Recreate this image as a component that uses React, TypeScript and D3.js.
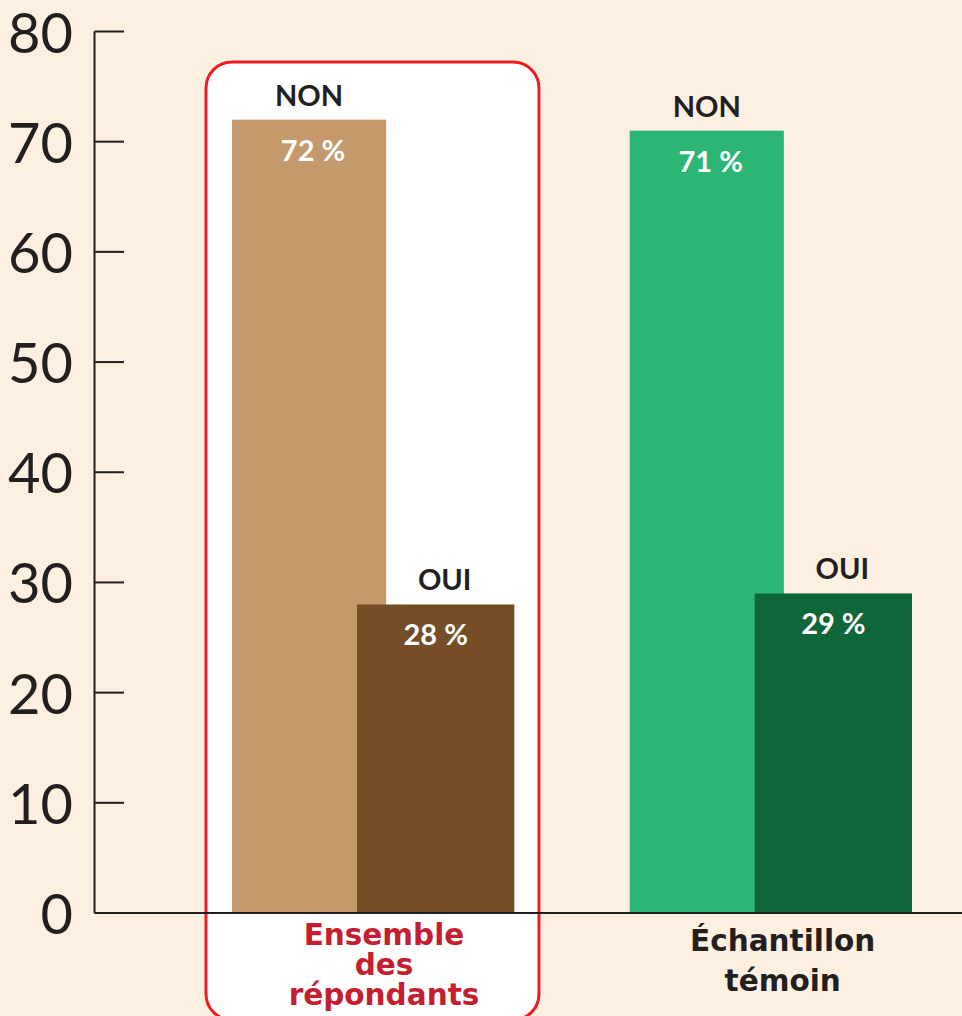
import React, { useEffect } from "react";
import * as d3 from "d3";

const groups = ["Ensemble des répondants", "Échantillon témoin"];
const groupLines = [["Ensemble", "des", "répondants"], ["Échantillon", "témoin"]];
const seriesNames = ["NON", "OUI"];
const nonValues = [72, 71];
const ouiValues = [28, 29];
const valueLabels = [["72 %", "71 %"], ["28 %", "29 %"]];
const yTicks = [0, 10, 20, 30, 40, 50, 60, 70, 80];

const W = 962;
const H = 1016;
const FONT = "Lato, 'DejaVu Sans', sans-serif";
const WIDE = "'DejaVu Sans', Lato, sans-serif";
const BG = "#fdf0e1";
const INK = "#231f20";
const colors = [
  ["#c4996b", "#754d27"],
  ["#2cb673", "#0f6638"],
];

export default function App() {
  useEffect(() => {
    document.body.style.margin = "0";
    document.body.style.background = BG;
  }, []);

  const y = d3.scaleLinear().domain([0, 80]).range([913, 31.5]);
  const x = d3.scaleBand<string>().domain(groups).range([232, 912]).paddingInner(0.29);
  const bw = x.bandwidth();
  const sub = d3.scaleOrdinal<string, number>().domain(seriesNames).range([0, 0.443 * bw]);
  const subW = [0.546 * bw, bw - 0.443 * bw];
  const axisX = 94.5;
  const baseY = y(0);

  const g1 = x(groups[0])!;

  return (
    <svg width={W} height={H} style={{ display: "block", background: BG, fontFamily: FONT }}>
      <rect x={0} y={0} width={W} height={H} fill={BG} />
      {/* highlight box */}
      <rect x={206} y={62} width={333} height={958} rx={26} ry={26} fill="#ffffff" stroke="#ed1c24" strokeWidth={3} />

      {groups.map((g, gi) => {
        const gx = x(g)!;
        const vals = [nonValues[gi], ouiValues[gi]];
        return (
          <g key={g}>
            {seriesNames.map((s, si) => {
              const bx = gx + sub(s);
              const top = y(vals[si]);
              const w = subW[si];
              return (
                <g key={s}>
                  <rect x={bx} y={top} width={w} height={baseY - top} fill={colors[gi][si]} />
                  <text x={bx + w / 2 + (si === 1 ? 9 : 0)} y={top - 14} textAnchor="middle" fontSize={29} fontWeight={700} fill={INK}>
                    {s}
                  </text>
                  <text x={bx + w / 2 + (si === 0 ? 4 : 0)} y={top + 41} textAnchor="middle" fontSize={29} fontWeight={700} fill="#ffffff">
                    {valueLabels[si][gi]}
                  </text>
                </g>
              );
            })}
          </g>
        );
      })}

      {/* axis */}
      <line x1={axisX} x2={axisX} y1={y(80)} y2={baseY} stroke={INK} strokeWidth={2} />
      <line x1={axisX} x2={W} y1={baseY} y2={baseY} stroke={INK} strokeWidth={2} />
      {yTicks.map((t) => (
        <g key={t}>
          <line x1={axisX} x2={124} y1={y(t)} y2={y(t)} stroke={INK} strokeWidth={2} />
          <text x={73} y={y(t) + 21} textAnchor="end" fontSize={56} fontWeight={400} fill={INK}>
            {t}
          </text>
        </g>
      ))}

      {/* group labels */}
      {groupLines[0].map((l, i) => (
        <text key={l} x={g1 + 152} y={945 + i * 30} textAnchor="middle" fontFamily={WIDE} fontSize={29.5} fontWeight={700} fill="#c41e30">
          {l}
        </text>
      ))}
      {groupLines[1].map((l, i) => (
        <text key={l} x={x(groups[1])! + 153} y={951 + i * 40} textAnchor="middle" fontFamily={WIDE} fontSize={29.5} fontWeight={700} fill={INK}>
          {l}
        </text>
      ))}
    </svg>
  );
}
